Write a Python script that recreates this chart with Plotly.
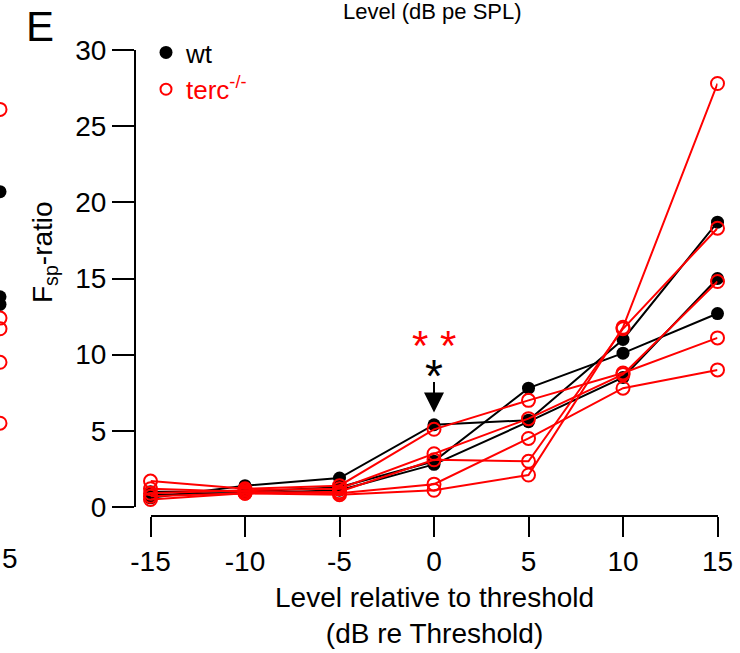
import plotly.graph_objects as go

# ---------------- data ----------------
levels = [-15, -10, -5, 0, 5, 10, 15]
x_tick_labels = ["-15", "-10", "-5", "0", "5", "10", "15"]
y_tick_vals = [0, 5, 10, 15, 20, 25, 30]

wt_1 = [0.6, 1.4, 1.9, 5.4, 5.7, 11.0, 18.7]
wt_2 = [1.0, 1.0, 1.3, 3.0, 7.8, 10.1, 12.7]
wt_3 = [0.8, 0.9, 1.1, 2.8, 5.6, 8.5, 15.0]

terc_1 = [1.7, 1.2, 1.4, 5.1, 7.0, 8.8, 11.1]
terc_2 = [0.9, 1.1, 1.2, 3.5, 5.8, 8.7, 14.8]
terc_3 = [0.7, 0.9, 1.0, 3.1, 3.0, 11.7, 18.3]
terc_4 = [1.2, 1.0, 0.9, 1.5, 4.5, 7.8, 9.0]
terc_5 = [0.5, 0.9, 0.8, 1.1, 2.1, 11.8, 27.8]

# fragments of the neighbouring panel visible at the left edge
left_wt = [20.7, 13.8, 13.3]
left_terc = [26.1, 12.4, 11.7, 9.5, 5.5]

wt_series = [wt_1, wt_2, wt_3]
terc_series = [terc_1, terc_2, terc_3, terc_4, terc_5]

FONT = "Liberation Sans, Arial, sans-serif"
RED = "#ff0000"

fig = go.Figure()

for s in wt_series:
    fig.add_trace(go.Scatter(
        x=levels, y=s, mode="lines+markers", showlegend=False,
        line=dict(color="black", width=2),
        marker=dict(symbol="circle", size=13, color="black"),
        cliponaxis=False))

for s in terc_series:
    fig.add_trace(go.Scatter(
        x=levels, y=s, mode="lines+markers", showlegend=False,
        line=dict(color=RED, width=2),
        marker=dict(symbol="circle-open", size=13, color=RED, line=dict(width=2)),
        cliponaxis=False))

# legend entries
fig.add_trace(go.Scatter(x=[None], y=[None], mode="markers", name="wt",
                         marker=dict(symbol="circle", size=13, color="black")))
fig.add_trace(go.Scatter(x=[None], y=[None], mode="markers",
                         name='<span style="color:#ff0000">terc<sup>-/-</sup></span>',
                         marker=dict(symbol="circle-open", size=11, color=RED, line=dict(width=2))))

# neighbouring panel fragments
fig.add_trace(go.Scatter(x=[0] * len(left_wt), y=left_wt, mode="markers", showlegend=False,
                         marker=dict(symbol="circle", size=13, color="black"),
                         xaxis="x2", yaxis="y2", cliponaxis=False))
fig.add_trace(go.Scatter(x=[0] * len(left_terc), y=left_terc, mode="markers", showlegend=False,
                         marker=dict(symbol="circle-open", size=13, color=RED, line=dict(width=2)),
                         xaxis="x2", yaxis="y2", cliponaxis=False))

W, H = 740, 653
px = lambda v: v / W
py = lambda v: (H - v) / H

fig.update_layout(
    width=W, height=H,
    margin=dict(l=0, r=0, t=0, b=0, autoexpand=False),
    paper_bgcolor="white", plot_bgcolor="white",
    font=dict(family=FONT, size=28, color="black"),
    xaxis=dict(domain=[px(150.5), px(717.5)], range=[-15, 15],
               anchor="free", position=py(516),
               tickvals=levels, ticktext=x_tick_labels,
               showline=True, linecolor="black", linewidth=2,
               ticks="outside", ticklen=20, tickwidth=2, tickcolor="black",
               showgrid=False, zeroline=False, automargin=False,
               tickfont=dict(size=28)),
    yaxis=dict(domain=[py(507), py(50)], range=[0, 30],
               anchor="free", position=px(135),
               tickvals=y_tick_vals,
               showline=True, linecolor="black", linewidth=2,
               ticks="outside", ticklen=22, tickwidth=2, tickcolor="black",
               showgrid=False, zeroline=False, automargin=False,
               tickfont=dict(size=28)),
    xaxis2=dict(domain=[0, 0.01], range=[0, 1], visible=False, anchor="y2"),
    yaxis2=dict(domain=[py(507), py(50)], range=[0, 30], visible=False, anchor="x2"),
    legend=dict(x=px(146), y=py(29), xanchor="left", yanchor="top",
                bgcolor="rgba(0,0,0,0)", font=dict(size=26, color="black"),
                itemwidth=30, tracegroupgap=0),
    showlegend=True,
)

annotations = [
    dict(text="E", x=px(24), y=py(27), xref="paper", yref="paper",
         xanchor="left", yanchor="middle", showarrow=False, font=dict(size=42)),
    dict(text="Level (dB pe SPL)", x=px(432), y=py(12), xref="paper", yref="paper",
         xanchor="center", yanchor="middle", showarrow=False, font=dict(size=22)),
    dict(text="Level relative to threshold<br>(dB re Threshold)", x=px(434), y=py(615),
         xref="paper", yref="paper", xanchor="center", yanchor="middle",
         showarrow=False, font=dict(size=28)),
    dict(text="F<sub>sp</sub>-ratio", x=px(44), y=py(252), xref="paper", yref="paper",
         xanchor="center", yanchor="middle", textangle=-90, showarrow=False,
         font=dict(size=28)),
    dict(text="5", x=0, y=py(558), xref="paper", yref="paper",
         xanchor="left", yanchor="middle", showarrow=False, font=dict(size=28)),
    # significance markers
    dict(text="* *", x=0, y=10.6, xref="x", yref="y", showarrow=False,
         font=dict(size=42, color=RED)),
    dict(text="*", x=0, y=8.6, xref="x", yref="y", showarrow=False,
         font=dict(size=46, color="black")),
    dict(text="", x=0, y=6.2, xref="x", yref="y", ax=0, ay=8.3, axref="x", ayref="y",
         showarrow=True, arrowhead=2, arrowsize=2.0, arrowwidth=2, arrowcolor="black"),
]
fig.update_layout(annotations=annotations)

fig.write_html("out.html")
